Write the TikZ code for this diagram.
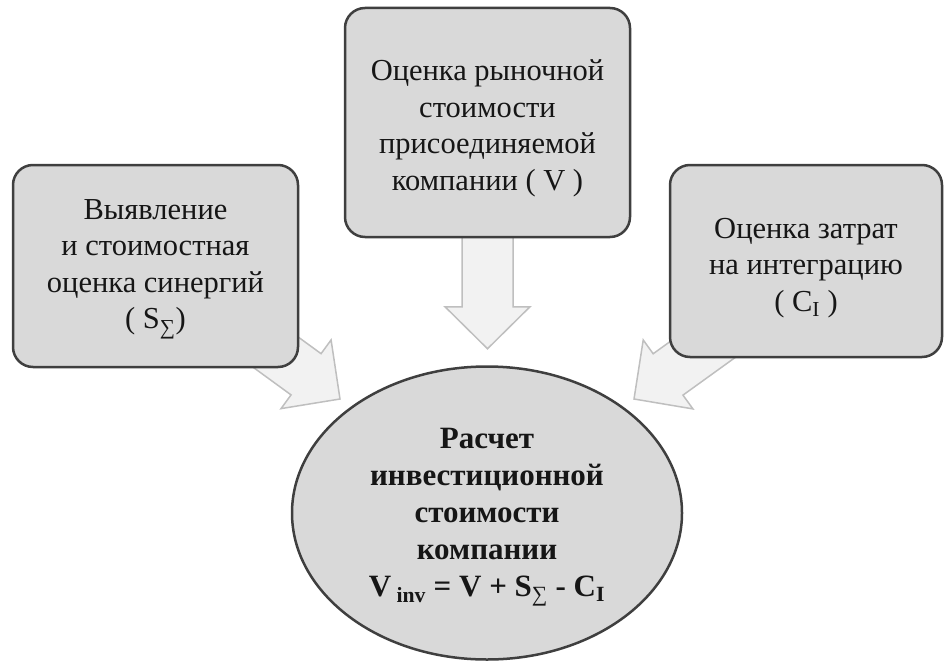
\documentclass[tikz,border=0pt]{standalone}
\usepackage{fontspec}
\setmainfont{Liberation Serif}
\usetikzlibrary{calc,shapes.geometric}
\definecolor{boxfill}{HTML}{D9D9D9}
\definecolor{boxline}{HTML}{3F3F3F}
\definecolor{arrfill}{HTML}{F2F2F2}
\definecolor{arrline}{HTML}{BFBFBF}
\definecolor{txt}{HTML}{161616}
\pgfdeclarelayer{background}
\pgfsetlayers{background,main}
\newcommand\blockarr[2]{%
  \coordinate (hb) at ($(#2)!42pt!(#1)$);
  \draw[blockarrow] ($(#1)!25.5pt!90:(#2)$) -- ($(hb)!25.5pt!90:(#2)$) -- ($(hb)!42.5pt!90:(#2)$) -- (#2)
    -- ($(hb)!42.5pt!-90:(#2)$) -- ($(hb)!25.5pt!-90:(#2)$) -- ($(#1)!25.5pt!-90:(#2)$) -- cycle;}
\begin{document}
\begin{tikzpicture}[x=1pt,y=-1pt,
  blockarrow/.style={draw=arrline, fill=arrfill, line width=1.5pt, line join=miter},
  stepbox/.style={draw=boxline, fill=boxfill, line width=2.5pt, rounded corners=20pt, inner sep=0pt},
  steptext/.style={inner sep=0pt, align=center, text=txt, font=\fontsize{30.5}{36.5}\selectfont},
  resultell/.style={ellipse, draw=boxline, fill=boxfill, line width=2.5pt, inner sep=0pt,
    minimum width=390pt, minimum height=293pt},
  resulttext/.style={inner sep=0pt, align=center, text=txt, font=\bfseries\fontsize{31}{37}\selectfont}]
\useasboundingbox (0,0) rectangle (944,661);
% boxes
\node[stepbox, minimum width=285pt, minimum height=202pt] (syn) at (155.5,266) {};
\node[steptext] (syntext) at ($(syn.center)+(0,3)$)
  {Выявление\\и стоимостная\\оценка синергий\\( S\textsubscript{∑})};
\node[stepbox, minimum width=285pt, minimum height=229pt] (mkt) at (487.5,122.5) {};
\node[steptext] (mkttext) at ($(mkt.center)+(0,6)$)
  {Оценка рыночной\\стоимости\\присоединяемой\\компании ( V )};
\node[stepbox, minimum width=272pt, minimum height=192pt] (cost) at (806,261) {};
\node[steptext] (costtext) at ($(cost.center)+(0,7)$)
  {Оценка затрат\\на интеграцию\\( C\textsubscript{I} )};
\node[resultell] (inv) at (487,513) {};
\node[resulttext] (invtext) at ($(inv.center)+(0,4)$)
  {Расчет\\инвестиционной\\стоимости\\компании\\V\,\textsubscript{inv} = V + S\textsubscript{\mdseries ∑} - C\textsubscript{I}};
% block arrows (behind the boxes)
\coordinate (lt) at ($(syn.south east)+(-55,-39)$);
\coordinate (lh) at ($(inv.center)+(-147,-114)$);
\coordinate (tt) at ($(mkt.south)+(0,-37)$);
\coordinate (th) at ($(inv.north)+(0.5,-16.5)$);
\coordinate (rt) at ($(cost.south west)+(62,-29)$);
\coordinate (rh) at ($(inv.center)+(147,-114)$);
\begin{pgfonlayer}{background}
\blockarr{lt}{lh}
\blockarr{tt}{th}
\blockarr{rt}{rh}
\end{pgfonlayer}
\end{tikzpicture}
\end{document}
